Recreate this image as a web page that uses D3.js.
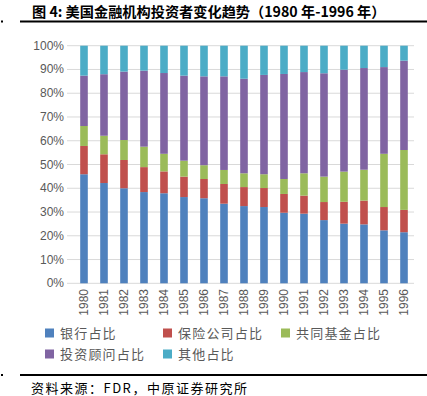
<!DOCTYPE html>
<html><head><meta charset="utf-8">
<script src="https://cdn.jsdelivr.net/npm/d3@7"></script>
<style>body{margin:0;background:#fff}svg{display:block}</style>
</head><body>
<svg id="c" width="427" height="396"></svg>
<script>
const years = ["1980","1981","1982","1983","1984","1985","1986","1987","1988","1989","1990","1991","1992","1993","1994","1995","1996"];
const seriesNames = ["银行占比","保险公司占比","共同基金占比","投资顾问占比","其他占比"];
const bank      = [45.9,42.2,40.0,38.4,37.9,36.3,35.8,33.5,32.5,32.1,29.7,29.3,26.6,25.1,24.8,22.3,21.5];
const insurance = [11.9,12.1,11.9,10.5,9.2,8.6,8.1,8.3,8.0,8.0,7.9,7.6,7.6,9.2,10.0,9.8,9.4];
const mutual    = [8.4,7.8,8.4,8.6,7.4,6.7,5.8,5.9,5.8,5.8,6.3,9.4,10.7,12.7,13.0,22.4,25.2];
const advisor   = [21.2,25.9,28.8,32.0,34.0,35.8,37.4,39.4,39.8,41.8,44.2,42.6,43.5,42.9,42.8,36.5,37.6];
const other     = [12.6,12.0,10.9,10.5,11.5,12.6,12.9,12.9,13.9,12.3,11.9,11.1,11.6,10.1,9.4,9.0,6.3];
const yTicks = [0,10,20,30,40,50,60,70,80,90,100];
const colors = ["#4F81BD","#C0504D","#9BBB59","#8064A2","#4BACC6"];

const svg = d3.select("#c");
const font = "'Noto Sans CJK SC', sans-serif";

// title
svg.append("text").attr("x",32).attr("y",17).attr("font-family",font).attr("font-weight","bold")
  .attr("font-size",14.2).attr("fill","#000").text("图 4: 美国金融机构投资者变化趋势（1980 年-1996 年）");
svg.append("line").attr("x1",20).attr("x2",427).attr("y1",21.5).attr("y2",21.5).attr("stroke","#000").attr("stroke-width",2);
svg.append("rect").attr("x",1).attr("y",20.5).attr("width",2).attr("height",2).attr("fill","#000");

const rows = years.map((y,i)=>({year:y, s0:bank[i], s1:insurance[i], s2:mutual[i], s3:advisor[i], s4:other[i]}));
const stack = d3.stack().keys(["s0","s1","s2","s3","s4"]).offset(d3.stackOffsetExpand);
const stacked = stack(rows);

const x = d3.scaleBand().domain(years).range([74,414]).paddingInner(0.62).paddingOuter(0.31);
const y = d3.scaleLinear().domain([0,1]).range([283.3,45.7]);

// grid
svg.append("g").selectAll("line").data(yTicks).join("line")
  .attr("x1",67).attr("x2",414).attr("y1",d=>y(d/100)).attr("y2",d=>y(d/100))
  .attr("stroke","#D9D9D9").attr("stroke-width",1);

svg.append("g").selectAll("text").data(yTicks).join("text")
  .attr("x",64).attr("y",d=>y(d/100)+4).attr("text-anchor","end")
  .attr("font-family","'Liberation Sans', Arial, sans-serif").attr("font-size",12).attr("fill","#595959")
  .text(d=>d+"%");

svg.append("g").selectAll("g").data(stacked).join("g").attr("fill",(d,i)=>colors[i])
  .selectAll("rect").data(d=>d).join("rect")
  .attr("x",d=>x(d.data.year)).attr("width",x.bandwidth())
  .attr("y",d=>y(d[1])).attr("height",d=>y(d[0])-y(d[1]));

// x labels
svg.append("g").selectAll("text").data(years).join("text")
  .attr("transform",d=>`translate(${x(d)+x.bandwidth()/2+4},289) rotate(-90)`)
  .attr("text-anchor","end")
  .attr("font-family","'Liberation Sans', Arial, sans-serif").attr("font-size",12).attr("fill","#595959")
  .text(d=>d);

// legend
const legPos = [[45,333],[163,333],[281,333],[45,354],[163,354]];
const lg = svg.append("g").selectAll("g").data(seriesNames).join("g")
  .attr("transform",(d,i)=>`translate(${legPos[i][0]},${legPos[i][1]})`);
lg.append("rect").attr("x",0).attr("y",-4.5).attr("width",9).attr("height",9).attr("fill",(d,i)=>colors[i]);
lg.append("text").attr("x",15).attr("y",5).attr("font-family",font).attr("font-size",13)
  .attr("letter-spacing",1.2).attr("fill","#595959").text(d=>d);

// bottom rule & source
svg.append("line").attr("x1",20).attr("x2",427).attr("y1",375).attr("y2",375).attr("stroke","#000").attr("stroke-width",2);
svg.append("rect").attr("x",1).attr("y",374).attr("width",2).attr("height",2).attr("fill","#000");
svg.append("text").attr("x",31).attr("y",393).attr("font-family",font).attr("font-size",13)
  .attr("letter-spacing",1.5).attr("fill","#000")
  .text("资料来源：FDR，中原证券研究所");
</script>
</body></html>
